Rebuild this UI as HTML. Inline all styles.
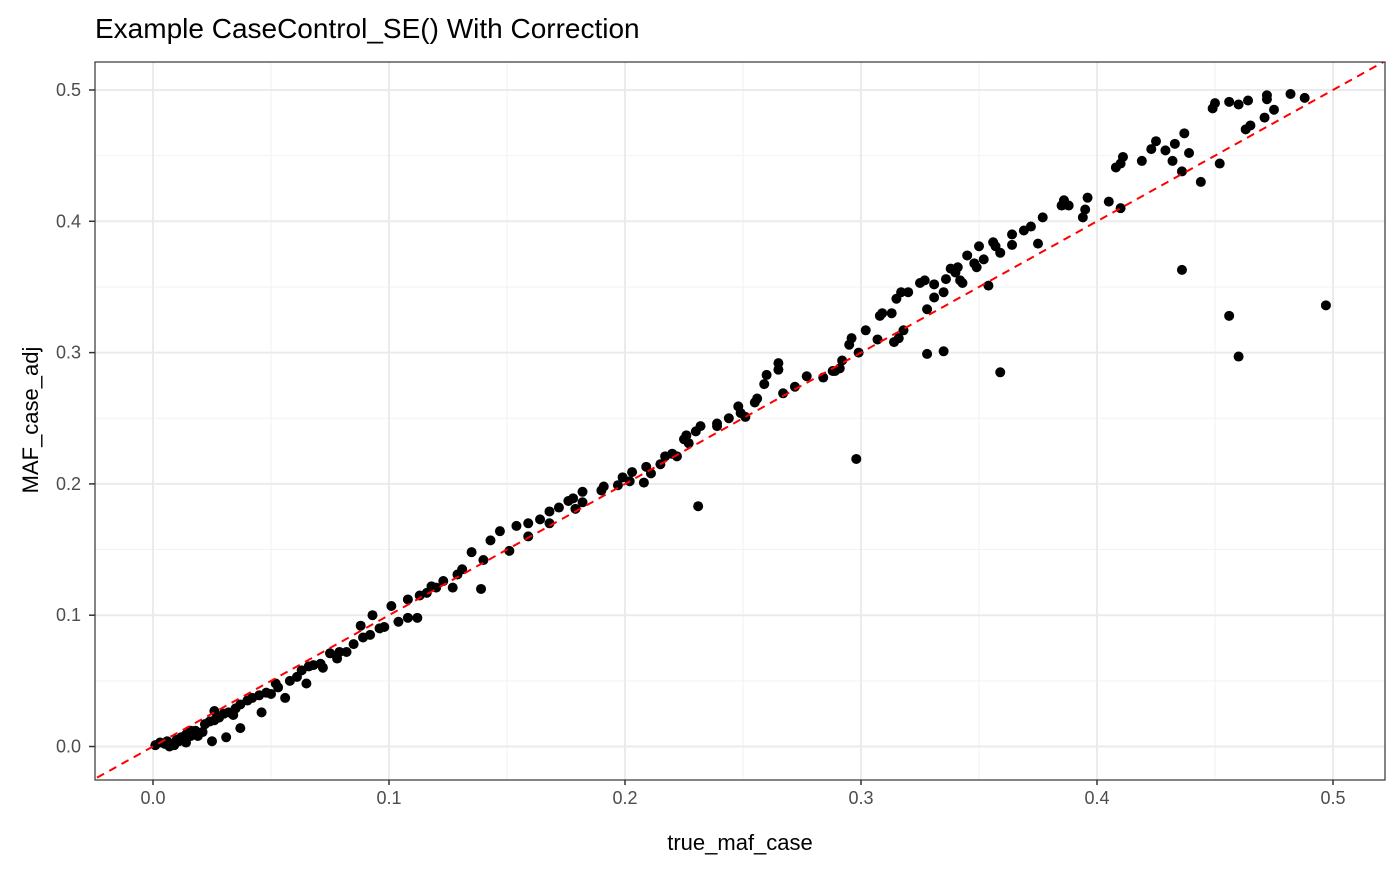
<!DOCTYPE html>
<html><head><meta charset="utf-8"><style>
body{margin:0;background:#fff;}
svg text{font-family:"Liberation Sans",Arial,sans-serif;}
</style></head><body>
<svg id="chart" width="1400" height="865">
<defs><clipPath id="clip"><rect x="95" y="62" width="1290" height="718"/></clipPath></defs>
<text x="95" y="38" font-size="28" fill="#000">Example CaseControl_SE() With Correction</text>
<text x="740" y="850" font-size="22" fill="#000" text-anchor="middle">true_maf_case</text>
<text x="0" y="0" font-size="22" fill="#000" text-anchor="middle" transform="translate(38,420) rotate(-90)">MAF_case_adj</text>
<g id="grid" clip-path="url(#clip)"></g><g id="marks" clip-path="url(#clip)"></g><g id="axes"></g>
</svg>
<script>
const xTicks=[0,0.1,0.2,0.3,0.4,0.5];
const yTicks=[0,0.1,0.2,0.3,0.4,0.5];
const xTickLabels=["0.0","0.1","0.2","0.3","0.4","0.5"];
const yTickLabels=["0.0","0.1","0.2","0.3","0.4","0.5"];
const xVals=[.482,.488,.472,.472,.464,.456,.450,.460,.449,.475,.471,.465,.463,.437,.433,.429,.432,.439,.436,.444,.452,.419,.410,.408,.405,.410,.395,.394,.388,.386,.377,.369,.375,.364,.364,.357,.352,.350,.359,.348,.341,.349,.340,.336,.342,.343,.354,.335,.327,.325,.320,.317,.315,.314,.316,.313,.309,.308,.302,.296,.295,.292,.291,.288,.284,.272,.265,.265,.260,.259,.256,.249,.251,.248,.239,.239,.230,.226,.225,.227,.220,.217,.215,.211,.208,.202,.203,.197,.191,.182,.178,.182,.176,.172,.168,.164,.159,.154,.147,.143,.135,.131,.123,.118,.113,.108,.101,.093,.088,.082,.078,.072,.065,.056,.046,.037,.031,.025,.019,.008,.001,.005,.011,.016,.021,.026,.032,.037,.045,.053,.061,.071,.079,.089,.098,.108,.127,.129,.140,.151,.159,.168,.179,.190,.199,.209,.222,.232,.244,.255,.267,.277,.289,.299,.307,.318,.328,.331,.331,.338,.345,.356,.372,.385,.396,.411,.423,.425,.436,.456,.460,.497,.359,.335,.328,.298,.231,.139,.003,.006,.009,.012,.014,.018,.022,.024,.028,.034,.035,.040,.042,.048,.050,.052,.058,.063,.066,.068,.075,.085,.092,.096,.104,.112,.116,.120,.026,.030,.007,.010,.014,.016];
const yVals=[.497,.494,.496,.493,.492,.491,.490,.489,.486,.485,.479,.473,.470,.467,.459,.454,.446,.452,.438,.430,.444,.446,.444,.441,.415,.410,.409,.403,.412,.416,.403,.393,.383,.390,.382,.381,.371,.381,.376,.368,.365,.365,.361,.356,.355,.353,.351,.346,.355,.353,.346,.346,.341,.308,.311,.330,.330,.328,.317,.311,.306,.294,.288,.286,.281,.274,.292,.287,.283,.276,.265,.254,.251,.259,.246,.244,.240,.237,.234,.231,.223,.221,.215,.208,.201,.202,.209,.199,.198,.194,.189,.186,.187,.182,.179,.173,.170,.168,.164,.157,.148,.135,.126,.122,.115,.112,.107,.100,.092,.072,.067,.060,.048,.037,.026,.014,.007,.004,.008,.002,.001,.002,.004,.008,.011,.020,.026,.032,.039,.045,.053,.063,.072,.083,.091,.098,.121,.131,.142,.149,.160,.170,.181,.195,.205,.213,.221,.244,.250,.262,.269,.282,.286,.300,.310,.317,.333,.342,.352,.364,.374,.384,.396,.412,.418,.449,.455,.461,.363,.328,.297,.336,.285,.301,.299,.219,.183,.120,.003,.004,.001,.007,.009,.012,.017,.019,.022,.024,.029,.035,.037,.041,.040,.048,.050,.058,.061,.062,.071,.078,.085,.090,.095,.098,.117,.121,.027,.025,.000,.005,.003,.012];
const L=95,R=1385,T=62,B=780;
const sx=v=>153+v*2360, sy=v=>746.5-v*1313;
const NS="http://www.w3.org/2000/svg";
function mk(tag,attrs,parent){const e=document.createElementNS(NS,tag);for(const k in attrs)e.setAttribute(k,attrs[k]);parent.appendChild(e);return e;}
const grid=document.getElementById('grid'),marks=document.getElementById('marks'),axes=document.getElementById('axes');
mk('rect',{x:L,y:T,width:R-L,height:B-T,fill:'#fff'},grid);
for(let i=0;i<xTicks.length;i++){
  const m=mk('line',{x1:sx(xTicks[i]+0.05),x2:sx(xTicks[i]+0.05),y1:T,y2:B,stroke:'#f2f2f2','stroke-width':1},grid);
  
  const m2=mk('line',{x1:L,x2:R,y1:sy(yTicks[i]+0.05),y2:sy(yTicks[i]+0.05),stroke:'#f2f2f2','stroke-width':1},grid);
  
}
for(let i=0;i<xTicks.length;i++){
  const g=mk('line',{x1:sx(xTicks[i]),x2:sx(xTicks[i]),y1:T,y2:B,stroke:'#ebebeb','stroke-width':2},grid);
  
  mk('line',{x1:sx(xTicks[i]),x2:sx(xTicks[i]),y1:B,y2:B+5,stroke:'#333','stroke-width':1.5},axes);
  const t=mk('text',{x:sx(xTicks[i]),y:B+24,'font-size':18,fill:'#4d4d4d','text-anchor':'middle'},axes);
  t.textContent=xTickLabels[i];
  
}
for(let i=0;i<yTicks.length;i++){
  const g=mk('line',{x1:L,x2:R,y1:sy(yTicks[i]),y2:sy(yTicks[i]),stroke:'#ebebeb','stroke-width':2},grid);
  
  mk('line',{x1:L-6,x2:L,y1:sy(yTicks[i]),y2:sy(yTicks[i]),stroke:'#333','stroke-width':1.5},axes);
  const t=mk('text',{x:L-14,y:sy(yTicks[i])+6,'font-size':18,fill:'#4d4d4d','text-anchor':'end'},axes);
  t.textContent=yTickLabels[i];
  
}
for(let i=0;i<xVals.length;i++){
  const c=mk('circle',{cx:sx(xVals[i]),cy:sy(yVals[i]),r:5,fill:'#000'},marks);
  
}
const x0=-0.06,x1=0.55;
const ref=mk('line',{x1:sx(x0),y1:sy(x0),x2:sx(x1),y2:sy(x1),stroke:'#ff0000','stroke-width':2,'stroke-dasharray':'8,6'},marks);

mk('rect',{x:L,y:T,width:R-L,height:B-T,fill:'none',stroke:'#333','stroke-width':1.2},axes);
</script>
</body></html>
